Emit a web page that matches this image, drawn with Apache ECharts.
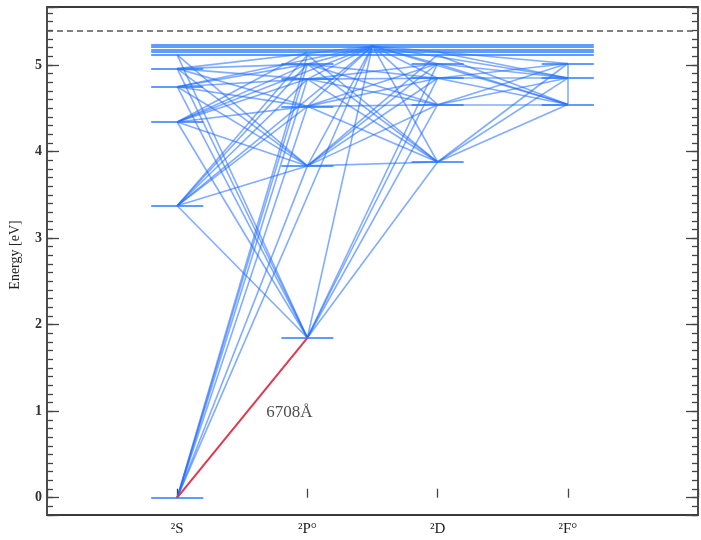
<!DOCTYPE html>
<html><head><meta charset="utf-8">
<script src="https://cdn.jsdelivr.net/npm/echarts@6/dist/echarts.min.js"></script>
<style>html,body{margin:0;padding:0;background:#fff}#c{width:701px;height:540px}</style>
</head><body><div id="c"></div>
<script>
// ---- data ----
const termLabels = ['²S', '²P°', '²D', '²F°'];
const termKeys = ['S', 'P', 'D', 'F'];
const levelNames = ['2s','3s','4s','5s','6s','2p','3p','4p','5p','6p','3d','4d','5d','6d','4f','5f','6f','X'];
const levelTerms = ['S','S','S','S','S','P','P','P','P','P','D','D','D','D','F','F','F','PD'];
const levelEnergies = [0, 3.373, 4.341, 4.749, 4.958, 1.848, 3.834, 4.522, 4.837, 5.010, 3.879, 4.541, 4.847, 5.015, 4.543, 4.849, 5.017, 5.22];
const highLevelNames = ['7', '8', '9', '10', '11'];
const highLevelEnergies = [5.116, 5.150, 5.179, 5.211, 5.237];
const ionizationEnergy = 5.392;
const resonanceLine = ['2s', '2p'];
const resonanceLabel = '6708Å';
const yTickValues = [0, 1, 2, 3, 4, 5];
const transitions = [
  ['2s','3p'],['2s','4p'],['2s','5p'],['2s','6p'],['2s','7p'],['2s','X'],
  ['3s','2p'],['3s','3p'],['3s','4p'],['3s','5p'],['3s','6p'],['3s','7p'],['3s','X'],
  ['4s','2p'],['4s','3p'],['4s','4p'],['4s','5p'],['4s','6p'],['4s','8p'],['4s','X'],
  ['5s','2p'],['5s','3p'],['5s','4p'],['5s','5p'],['5s','6p'],['5s','X'],
  ['6s','2p'],['6s','3p'],['6s','4p'],['6s','5p'],['6s','6p'],['6s','X'],
  ['7s','2p'],['7s','3p'],
  ['2p','3d'],['2p','4d'],['2p','5d'],['2p','6d'],['2p','X'],
  ['3p','3d'],['3p','4d'],['3p','5d'],['3p','6d'],['3p','X'],['3p','7d'],
  ['4p','3d'],['4p','4d'],['4p','5d'],['4p','6d'],['4p','X'],
  ['5p','3d'],['5p','4d'],['5p','5d'],['5p','6d'],['5p','X'],
  ['6p','3d'],['6p','4d'],['6p','5d'],['6p','X'],
  ['3d','4f'],['3d','5f'],['3d','6f'],['3d','X'],['3d','7p'],
  ['4d','4f'],['4d','5f'],['4d','6f'],['4d','X'],
  ['5d','4f'],['5d','5f'],['5d','6f'],['5d','X'],
  ['6d','4f'],['6d','5f'],['6d','X'],
  ['4f','6f'],['4f','X'],['5f','X'],['6f','X'],['4f','7d'],['5f','8d']
];

// ---- helpers ----
const termX = {};
termKeys.forEach((k, i) => termX[k] = i + 1);
function pos(name) {
  const i = levelNames.indexOf(name);
  if (i >= 0) {
    const t = levelTerms[i];
    const x = t.length === 1 ? termX[t] : (termX[t[0]] + termX[t[1]]) / 2;
    return [x, levelEnergies[i]];
  }
  const m = name.match(/^(\d+)([spdf])$/);
  const k = highLevelNames.indexOf(m[1]);
  return [termX[m[2].toUpperCase()], highLevelEnergies[k]];
}
const HALF = 0.2;
const segs = [];
levelNames.forEach((n, i) => {
  if (levelTerms[i].length === 1) {
    const p = pos(n);
    segs.push({coords: [[p[0] - HALF, p[1]], [p[0] + HALF, p[1]]]});
  }
});
highLevelEnergies.forEach(e => segs.push({coords: [[1 - HALF, e], [4 + HALF, e]]}));
const trans = transitions.map(t => ({coords: [pos(t[0]), pos(t[1])]}));
const r0 = pos(resonanceLine[0]), r1 = pos(resonanceLine[1]);
const rMid = [(r0[0] + r1[0]) / 2, (r0[1] + r1[1]) / 2];

const serif = 'Liberation Serif';
const YMIN = -0.2, YMAX = 5.67;
const tickColor = '#444';
function yAxisBase(position, major) {
  return {
    type: 'value', min: YMIN, max: YMAX, position: position,
    interval: major ? undefined : 0.1,
    splitNumber: 6,
    axisLine: {show: false}, splitLine: {show: false},
    axisTick: {show: true, inside: true, length: major ? 12 : 6, lineStyle: {color: tickColor, width: 1.3}},
    axisLabel: {show: major && position === 'left', formatter: v => yTickValues.indexOf(v) >= 0 ? String(v) : '',
      fontFamily: serif, fontWeight: 'bold', fontSize: 14, color: '#333', margin: 5}
  };
}

const chart = echarts.init(document.getElementById('c'));
chart.setOption({
  animation: false,
  backgroundColor: '#fff',
  grid: {left: 47, right: 1, top: 7, bottom: 25, show: true, borderColor: '#3a3a3a', borderWidth: 1.8, backgroundColor: 'transparent'},
  xAxis: [{
    type: 'value', min: 0, max: 5, interval: 1, position: 'bottom',
    axisLine: {show: false}, splitLine: {show: false},
    axisTick: {show: true, inside: true, length: 9, lineStyle: {color: tickColor, width: 1.3}},
    axisLabel: {formatter: v => termLabels[v - 1] || '', margin: 7, fontFamily: serif, fontSize: 15, color: '#222'}
  }],
  yAxis: [
    Object.assign(yAxisBase('left', true), {name: 'Energy [eV]', nameLocation: 'middle', nameGap: 25,
      nameTextStyle: {fontFamily: serif, fontSize: 14, color: '#222', padding: [0, 0, 0, 12]}}),
    yAxisBase('left', false),
    yAxisBase('right', true),
    yAxisBase('right', false)
  ],
  series: [
    {
      type: 'lines', coordinateSystem: 'cartesian2d', silent: true, z: 2,
      lineStyle: {color: '#1a68ff', width: 1.6, opacity: 0.55},
      data: trans
    },
    {
      type: 'lines', coordinateSystem: 'cartesian2d', silent: true, z: 3,
      lineStyle: {color: '#2a7bff', width: 2, opacity: 0.75},
      data: segs,
      markLine: {symbol: 'none', silent: true, label: {show: false},
        lineStyle: {type: [6, 4], color: '#555', width: 1.5},
        data: [{yAxis: ionizationEnergy}]}
    },
    {
      type: 'lines', coordinateSystem: 'cartesian2d', silent: true, z: 4,
      lineStyle: {color: '#e0384e', width: 2, opacity: 1},
      data: [{coords: [r0, r1]}]
    },
    {
      type: 'scatter', silent: true, z: 5, symbolSize: 0,
      data: [rMid],
      label: {show: true, formatter: resonanceLabel, position: 'inside', offset: [47, -5],
        fontFamily: serif, fontSize: 17, color: '#222'}
    }
  ]
});
</script></body></html>
